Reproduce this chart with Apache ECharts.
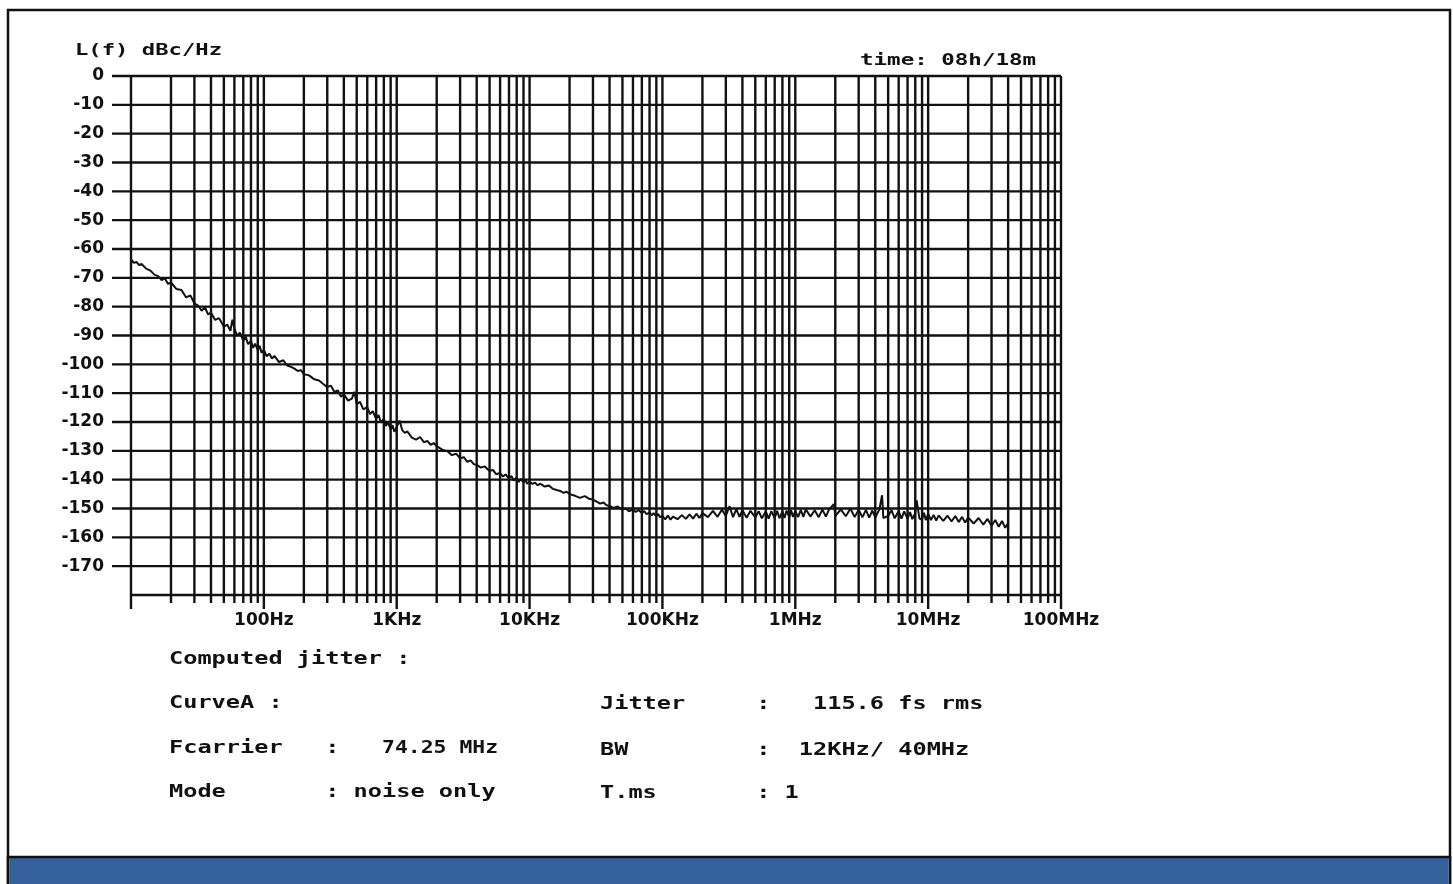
<!DOCTYPE html>
<html><head><meta charset="utf-8">
<script src="https://cdn.jsdelivr.net/npm/echarts@6/dist/echarts.min.js"></script>
<style>html,body{margin:0;padding:0;background:#fff}#c{width:1453px;height:884px}</style>
</head><body><div id="c"></div><script>
// ---- phase-noise trace (Hz, dBc/Hz) ----
const d1Hz = [10,10.5,11,11.5,12,13,14,15,16,17,18,19,20,22,24,26,28,30,32,34,36,38,40,43,46,50,53,56,58,60,63,66,70,73,76,80,83,86,90,93,96];
const d1Dbc = [-63.5,-64.8,-64.5,-65.6,-65.2,-66.8,-67.5,-68.9,-69.4,-70.8,-70.2,-72.1,-71.6,-73.9,-74.2,-76.8,-76.1,-78.9,-79.6,-81.4,-80.2,-82.7,-82.1,-84.6,-84.0,-86.9,-86.2,-88.4,-84.5,-87.6,-90.1,-89.0,-91.8,-90.4,-93.0,-91.9,-94.3,-92.8,-95.1,-93.6,-96.0];
const d2Hz = [100,105,110,115,120,130,140,150,160,170,180,190,200,220,240,260,280,300,320,340,360,380,400,430,460,480,500,530,560,600,630,660,700,730,760,800,830,860,900,930,960];
const d2Dbc = [-95.0,-97.2,-96.3,-98.0,-97.1,-99.2,-98.6,-100.4,-100.9,-101.5,-102.3,-102.0,-103.4,-103.9,-105.2,-105.6,-106.8,-107.9,-107.4,-109.6,-109.0,-111.2,-110.4,-112.6,-111.9,-109.5,-113.8,-113.0,-115.6,-114.8,-117.3,-116.2,-118.9,-117.6,-120.2,-118.8,-121.4,-120.0,-122.6,-121.1,-123.4];
const d3Hz = [1000,1050,1100,1150,1200,1300,1400,1500,1600,1700,1800,1900,2000,2200,2400,2600,2800,3000,3200,3400,3600,3800,4000,4300,4600,5000,5300,5600,6000,6300,6600,7000,7300,7600,8000,8300,8600,9000,9300,9600];
const d3Dbc = [-121.8,-119.5,-122.8,-123.8,-123.2,-125.4,-126.1,-125.2,-127.0,-126.6,-127.9,-127.3,-128.4,-129.6,-130.1,-131.5,-131.0,-132.6,-132.2,-133.8,-133.3,-134.6,-134.9,-135.8,-135.4,-137.0,-136.6,-138.1,-137.7,-138.9,-138.2,-139.6,-138.7,-140.3,-139.2,-140.8,-139.7,-141.0,-140.1,-141.4];
const d4Hz = [10000,10500,11000,11500,12000,13000,14000,15000,16000,17000,18000,19000,20000,22000,24000,26000,28000,30000,32000,34000,36000,38000,40000,43000,46000,50000,53000,56000,60000,63000,66000,70000,73000,76000,80000,83000,86000,90000,93000,96000];
const d4Dbc = [-140.6,-141.5,-141.0,-142.0,-141.4,-142.4,-142.0,-143.2,-143.6,-143.9,-144.6,-144.2,-145.0,-145.6,-146.3,-145.7,-146.6,-146.9,-147.6,-148.3,-147.9,-148.9,-149.1,-149.8,-149.3,-150.4,-150.0,-151.0,-150.3,-151.2,-150.5,-151.6,-150.9,-152.0,-151.3,-152.4,-151.6,-152.7,-151.9,-153.0];
const d5Hz = [100000,105000,110000,115000,120000,130000,140000,150000,160000,170000,180000,190000,200000,220000,240000,260000,280000,300000,320000,340000,360000,380000,400000,430000,460000,500000,530000,560000,600000,630000,660000,700000,730000,760000,800000,830000,860000,900000,930000,960000];
const d5Dbc = [-152.6,-153.8,-152.4,-153.9,-152.8,-153.7,-152.3,-153.6,-152.0,-153.5,-151.8,-153.3,-151.6,-153.0,-150.8,-152.9,-150.4,-152.6,-149.2,-153.0,-150.2,-152.9,-150.6,-153.2,-150.8,-153.1,-150.9,-153.4,-151.0,-153.5,-150.9,-153.3,-150.8,-153.4,-151.0,-153.3,-150.7,-153.1,-150.6,-152.9];
const d6Hz = [1000000,1050000,1100000,1150000,1200000,1300000,1400000,1500000,1600000,1700000,1800000,1950000,2000000,2200000,2400000,2600000,2800000,3000000,3200000,3400000,3600000,3800000,4000000,4300000,4500000,4600000,5000000,5300000,5600000,6000000,6300000,6600000,7000000,7300000,7600000,8000000,8200000,8600000,9000000,9300000,9600000];
const d6Dbc = [-150.8,-153.0,-150.5,-152.9,-150.3,-152.8,-150.6,-153.0,-150.4,-152.8,-150.2,-148.5,-152.6,-150.3,-152.7,-150.0,-153.0,-150.4,-153.1,-150.5,-153.2,-150.7,-153.1,-150.2,-145.4,-153.3,-152.6,-150.6,-153.4,-150.9,-153.5,-151.0,-153.6,-151.2,-153.7,-151.5,-147.2,-153.5,-153.8,-151.5,-154.0];
const d7Hz = [10000000,10500000,11000000,11500000,12000000,13000000,14000000,15000000,16000000,17000000,18000000,19000000,20000000,22000000,24000000,26000000,28000000,30000000,32000000,34000000,36000000,38000000,40000000,40000000,40000000];
const d7Dbc = [-151.9,-154.0,-152.2,-154.2,-152.4,-154.3,-152.5,-154.5,-152.6,-154.7,-152.9,-154.9,-153.1,-155.2,-153.3,-155.6,-153.6,-156.0,-154.0,-156.3,-154.3,-156.7,-155.0,-157.2,-149.4];

// ---- axes ----
const X_MIN = 10, X_MAX = 1e8;
const Y_MIN = -180, Y_MAX = 0, Y_STEP = 10;
const xTickHz = [100,1000,10000,100000,1000000,10000000,100000000];
const xTickText = ['100Hz','1KHz','10KHz','100KHz','1MHz','10MHz','100MHz'];
const decadeHz = [10,100,1000,10000,100000,1000000,10000000,100000000];
const subSteps = [2,3,4,5,6,7,8,9];
const levelLines = [0,-10,-20,-30,-40,-50,-60,-70,-80,-90,-100,-110,-120,-130,-140,-150,-160,-170,-180];

// ---- texts ----
const yTitle = 'L(f) dBc/Hz';
const timeText = 'time: 08h/18m';
const infoLeft = ['Computed jitter :', 'CurveA :', 'Fcarrier   :', 'Mode       : noise only'];
const carrierText = '74.25 MHz';
const infoRight = ['Jitter     :   115.6 fs rms', 'BW         :  12KHz/ 40MHz', 'T.ms       : 1'];

// ---- build ----
const allHz = [].concat(d1Hz,d2Hz,d3Hz,d4Hz,d5Hz,d6Hz,d7Hz);
const allDbc = [].concat(d1Dbc,d2Dbc,d3Dbc,d4Dbc,d5Dbc,d6Dbc,d7Dbc);
const trace = allHz.map((f,i)=>[f, allDbc[i]]);

const vGrid = [];
decadeHz.forEach((d,i)=>{
  vGrid.push([d, Y_MIN, 1]);
  if (i < decadeHz.length-1) subSteps.forEach(s=>vGrid.push([d*s, Y_MIN, 0]));
});
const hGrid = levelLines.map(l=>[X_MIN, l]);

const INK = '#111';
const chart = echarts.init(document.getElementById('c'), null, {renderer:'canvas'});

const monoFont = 'bold 17px "DejaVu Sans Mono"';
const PITCH_SCALE = 14.2 / (0.602*17);
const rowsL = [660, 703.5, 749, 793];
const rowsR = [705, 750.5, 793.5];
const graphics = [
  {type:'rect', z:0, shape:{x:8, y:10, width:1442, height:880}, style:{fill:'#fff', stroke:INK, lineWidth:2.5}},
  {type:'rect', z:1, shape:{x:9.5, y:858, width:1439, height:30}, style:{fill:'#34609b'}},
  {type:'line', z:2, shape:{x1:8, y1:857, x2:1450, y2:857}, style:{stroke:INK, lineWidth:2.5}},
  {type:'line', z:2, shape:{x1:8, y1:856, x2:8, y2:884}, style:{stroke:INK, lineWidth:2.5}},
  {type:'line', z:2, shape:{x1:1450, y1:856, x2:1450, y2:884}, style:{stroke:INK, lineWidth:2.5}},
  {type:'text', z:5, x:75, y:51, scaleX:1.48, style:{text:yTitle, font:'bold 15px "DejaVu Sans Mono"', fill:INK, verticalAlign:'middle', align:'left'}},
  {type:'text', z:5, x:860, y:61.5, scaleX:1.5, style:{text:timeText, font:'bold 15px "DejaVu Sans Mono"', fill:INK, verticalAlign:'middle', align:'left'}},
  {type:'text', z:5, x:382, y:rowsL[2], scaleX:1.26, style:{text:carrierText, font:monoFont, fill:INK, verticalAlign:'middle', align:'left'}}
];
infoLeft.forEach((t,i)=>graphics.push({type:'text', z:5, x:169, y:rowsL[i], scaleX:PITCH_SCALE, style:{text:t, font:monoFont, fill:INK, verticalAlign:'middle', align:'left'}}));
infoRight.forEach((t,i)=>graphics.push({type:'text', z:5, x:600, y:rowsR[i], scaleX:PITCH_SCALE, style:{text:t, font:monoFont, fill:INK, verticalAlign:'middle', align:'left'}}));

const labelStyle = {fontFamily:'DejaVu Sans', fontWeight:'bold', fontSize:17, color:INK};

chart.setOption({
  animation:false,
  backgroundColor:'transparent',
  graphic: graphics,
  grid:{left:131, top:76, width:930, height:519, containLabel:false, outerBoundsMode:'none'},
  xAxis:{
    type:'log', logBase:10, min:X_MIN, max:X_MAX, splitNumber:7,
    axisLine:{show:false}, axisTick:{show:false}, splitLine:{show:false}, minorTick:{show:false}, minorSplitLine:{show:false},
    axisLabel:Object.assign({margin:17, hideOverlap:false, showMinLabel:true, showMaxLabel:true,
      formatter:v=>{const i = xTickHz.findIndex(t=>Math.abs(Math.log10(t)-Math.log10(v))<1e-6); return i<0?'':xTickText[i];}}, labelStyle)
  },
  yAxis:{
    type:'value', min:Y_MIN, max:Y_MAX, interval:Y_STEP,
    axisLine:{show:false}, axisTick:{show:false}, splitLine:{show:false},
    axisLabel:Object.assign({margin:27, formatter:v=> v===Y_MIN ? '' : String(v)}, labelStyle)
  },
  series:[
    {type:'custom', name:'vgrid', silent:true, clip:false, z:1, data:vGrid, encode:{x:0, y:1},
      renderItem:(p, api)=>{
        const f = api.value(0), major = api.value(2);
        const a = api.coord([f, Y_MAX]), b = api.coord([f, Y_MIN]);
        return {type:'line', shape:{x1:a[0], y1:a[1], x2:b[0], y2:b[1] + (major ? 14 : 8)}, style:{stroke:INK, lineWidth:2.4}};
      }},
    {type:'custom', name:'hgrid', silent:true, clip:false, z:1, data:hGrid, encode:{x:0, y:1},
      renderItem:(p, api)=>{
        const l = api.value(1);
        const a = api.coord([X_MIN, l]), b = api.coord([X_MAX, l]);
        return {type:'line', shape:{x1:a[0] - (l > Y_MIN ? 19 : 0), y1:a[1], x2:b[0], y2:b[1]}, style:{stroke:INK, lineWidth:2.4}};
      }},
    {type:'line', name:'CurveA', z:3, data:trace, showSymbol:false, symbol:'none', silent:true,
      lineStyle:{color:INK, width:2}}
  ]
});
</script></body></html>
